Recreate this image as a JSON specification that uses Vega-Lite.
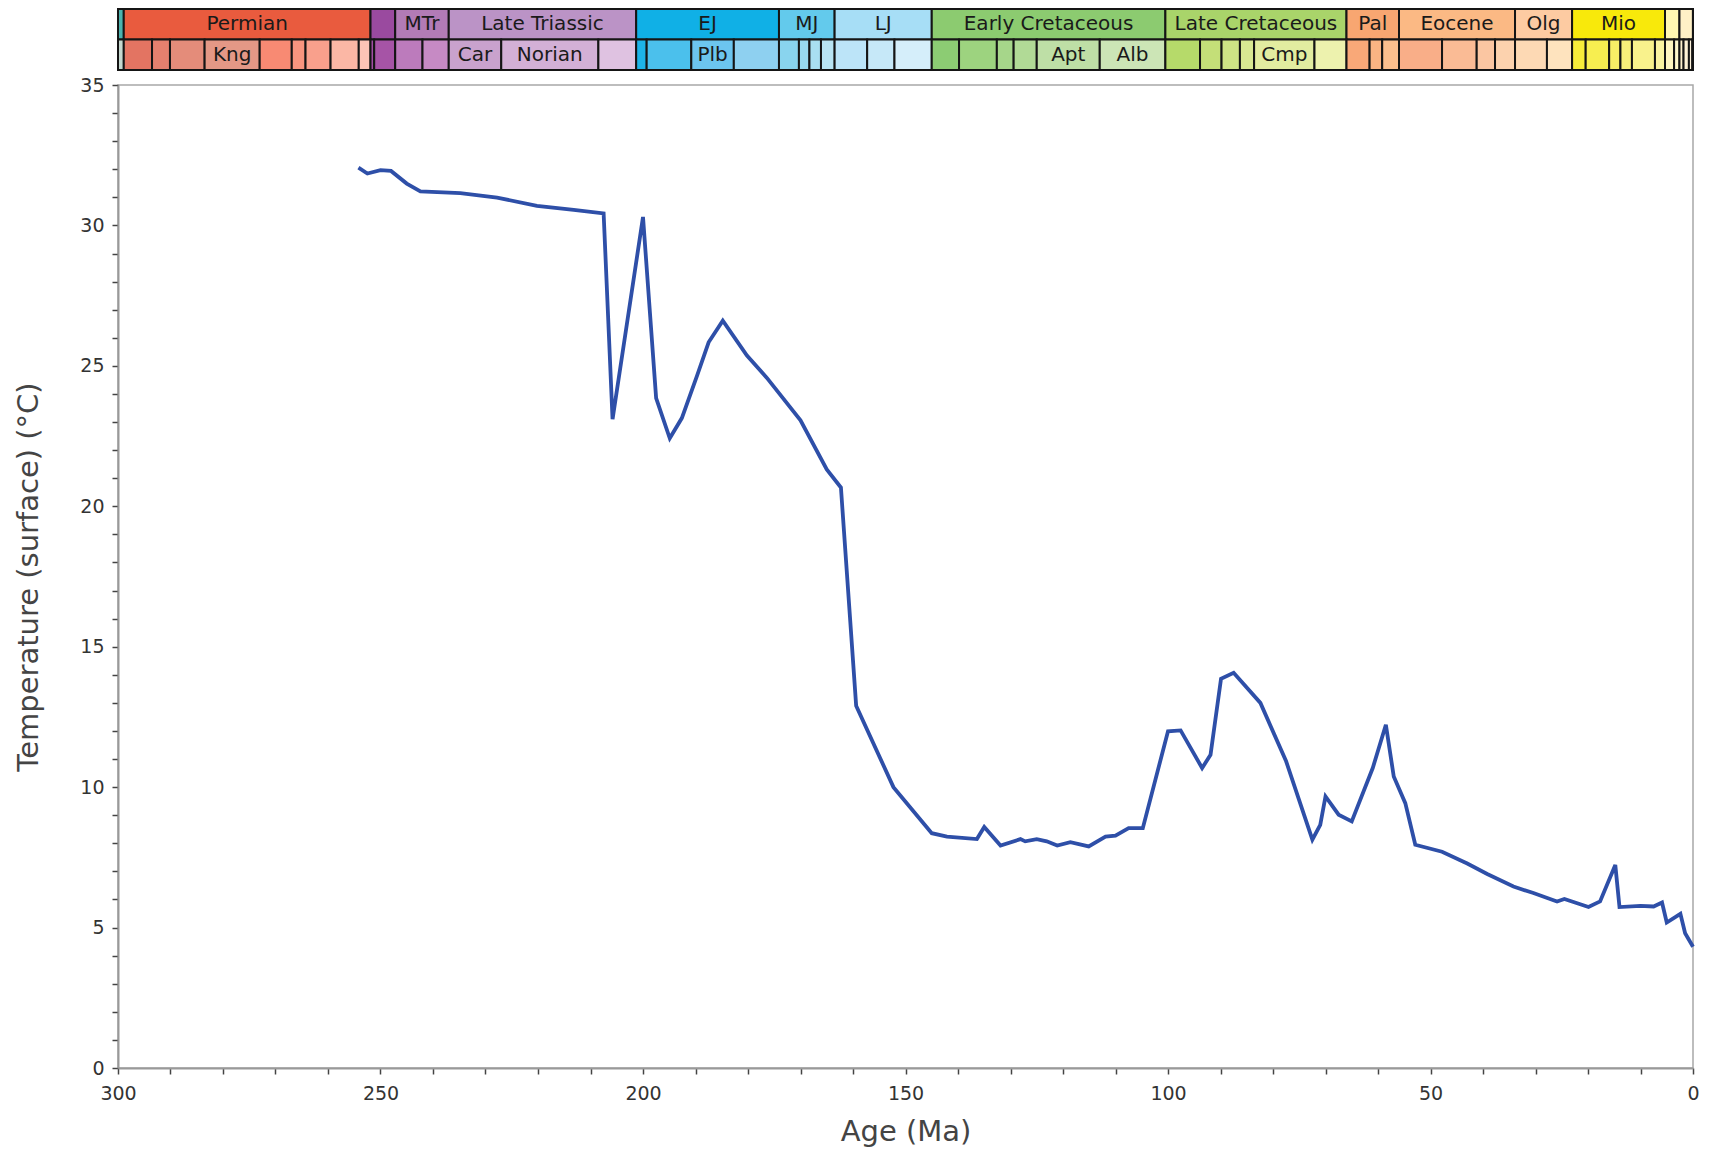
{
  "$schema": "https://vega.github.io/schema/vega-lite/v6.json",
  "background": "white",
  "padding": {"top": 8, "left": 14, "right": 10, "bottom": 4},
  "bounds": "flush",
  "spacing": 15,
  "config": {
    "font": "DejaVu Sans",
    "view": {"stroke": null},
    "axis": {
      "domainColor": "#999999", "domainWidth": 2,
      "tickColor": "#444444", "tickWidth": 1.5, "tickSize": 6,
      "labelFont": "DejaVu Sans", "labelFontSize": 19, "labelColor": "#333333",
      "titleFont": "DejaVu Sans", "titleFontSize": 29, "titleFontWeight": "normal", "titleColor": "#444444",
      "grid": false, "labelOverlap": false, "labelFlush": false
    }
  },
  "datasets": {
    "cells": [
      {"name": "Carboniferous", "level": "upper", "start": 298.9, "end": 300},
      {"name": "Permian", "level": "upper", "start": 251.902, "end": 298.9},
      {"name": "Early Triassic", "level": "upper", "start": 247.2, "end": 251.902},
      {"name": "Middle Triassic", "level": "upper", "start": 237, "end": 247.2},
      {"name": "Late Triassic", "level": "upper", "start": 201.3, "end": 237},
      {"name": "Early Jurassic", "level": "upper", "start": 174.1, "end": 201.3},
      {"name": "Middle Jurassic", "level": "upper", "start": 163.5, "end": 174.1},
      {"name": "Late Jurassic", "level": "upper", "start": 145, "end": 163.5},
      {"name": "Early Cretaceous", "level": "upper", "start": 100.5, "end": 145},
      {"name": "Late Cretaceous", "level": "upper", "start": 66, "end": 100.5},
      {"name": "Paleocene", "level": "upper", "start": 56, "end": 66},
      {"name": "Eocene", "level": "upper", "start": 33.9, "end": 56},
      {"name": "Oligocene", "level": "upper", "start": 23.03, "end": 33.9},
      {"name": "Miocene", "level": "upper", "start": 5.333, "end": 23.03},
      {"name": "Pliocene", "level": "upper", "start": 2.58, "end": 5.333},
      {"name": "Pleistocene", "level": "upper", "start": 0.0117, "end": 2.58},
      {"name": "Holocene", "level": "upper", "start": 0, "end": 0.0117},
      {"name": "Gzhelian", "level": "lower", "start": 298.9, "end": 300},
      {"name": "Asselian", "level": "lower", "start": 293.52, "end": 298.9},
      {"name": "Sakmarian", "level": "lower", "start": 290.1, "end": 293.52},
      {"name": "Artinskian", "level": "lower", "start": 283.5, "end": 290.1},
      {"name": "Kungurian", "level": "lower", "start": 273.01, "end": 283.5},
      {"name": "Roadian", "level": "lower", "start": 266.9, "end": 273.01},
      {"name": "Wordian", "level": "lower", "start": 264.28, "end": 266.9},
      {"name": "Capitanian", "level": "lower", "start": 259.51, "end": 264.28},
      {"name": "Wuchiapingian", "level": "lower", "start": 254.14, "end": 259.51},
      {"name": "Changhsingian", "level": "lower", "start": 251.902, "end": 254.14},
      {"name": "Induan", "level": "lower", "start": 251.2, "end": 251.902},
      {"name": "Olenekian", "level": "lower", "start": 247.2, "end": 251.2},
      {"name": "Anisian", "level": "lower", "start": 242, "end": 247.2},
      {"name": "Ladinian", "level": "lower", "start": 237, "end": 242},
      {"name": "Carnian", "level": "lower", "start": 227, "end": 237},
      {"name": "Norian", "level": "lower", "start": 208.5, "end": 227},
      {"name": "Rhaetian", "level": "lower", "start": 201.3, "end": 208.5},
      {"name": "Hettangian", "level": "lower", "start": 199.3, "end": 201.3},
      {"name": "Sinemurian", "level": "lower", "start": 190.8, "end": 199.3},
      {"name": "Pliensbachian", "level": "lower", "start": 182.7, "end": 190.8},
      {"name": "Toarcian", "level": "lower", "start": 174.1, "end": 182.7},
      {"name": "Aalenian", "level": "lower", "start": 170.3, "end": 174.1},
      {"name": "Bajocian", "level": "lower", "start": 168.3, "end": 170.3},
      {"name": "Bathonian", "level": "lower", "start": 166.1, "end": 168.3},
      {"name": "Callovian", "level": "lower", "start": 163.5, "end": 166.1},
      {"name": "Oxfordian", "level": "lower", "start": 157.3, "end": 163.5},
      {"name": "Kimmeridgian", "level": "lower", "start": 152.1, "end": 157.3},
      {"name": "Tithonian", "level": "lower", "start": 145, "end": 152.1},
      {"name": "Berriasian", "level": "lower", "start": 139.8, "end": 145},
      {"name": "Valanginian", "level": "lower", "start": 132.6, "end": 139.8},
      {"name": "Hauterivian", "level": "lower", "start": 129.4, "end": 132.6},
      {"name": "Barremian", "level": "lower", "start": 125, "end": 129.4},
      {"name": "Aptian", "level": "lower", "start": 113, "end": 125},
      {"name": "Albian", "level": "lower", "start": 100.5, "end": 113},
      {"name": "Cenomanian", "level": "lower", "start": 93.9, "end": 100.5},
      {"name": "Turonian", "level": "lower", "start": 89.8, "end": 93.9},
      {"name": "Coniacian", "level": "lower", "start": 86.3, "end": 89.8},
      {"name": "Santonian", "level": "lower", "start": 83.6, "end": 86.3},
      {"name": "Campanian", "level": "lower", "start": 72.1, "end": 83.6},
      {"name": "Maastrichtian", "level": "lower", "start": 66, "end": 72.1},
      {"name": "Danian", "level": "lower", "start": 61.6, "end": 66},
      {"name": "Selandian", "level": "lower", "start": 59.2, "end": 61.6},
      {"name": "Thanetian", "level": "lower", "start": 56, "end": 59.2},
      {"name": "Ypresian", "level": "lower", "start": 47.8, "end": 56},
      {"name": "Lutetian", "level": "lower", "start": 41.2, "end": 47.8},
      {"name": "Bartonian", "level": "lower", "start": 37.71, "end": 41.2},
      {"name": "Priabonian", "level": "lower", "start": 33.9, "end": 37.71},
      {"name": "Rupelian", "level": "lower", "start": 27.82, "end": 33.9},
      {"name": "Chattian", "level": "lower", "start": 23.03, "end": 27.82},
      {"name": "Aquitanian", "level": "lower", "start": 20.44, "end": 23.03},
      {"name": "Burdigalian", "level": "lower", "start": 15.97, "end": 20.44},
      {"name": "Langhian", "level": "lower", "start": 13.82, "end": 15.97},
      {"name": "Serravallian", "level": "lower", "start": 11.63, "end": 13.82},
      {"name": "Tortonian", "level": "lower", "start": 7.246, "end": 11.63},
      {"name": "Messinian", "level": "lower", "start": 5.333, "end": 7.246},
      {"name": "Zanclean", "level": "lower", "start": 3.6, "end": 5.333},
      {"name": "Piacenzian", "level": "lower", "start": 2.58, "end": 3.6},
      {"name": "Gelasian", "level": "lower", "start": 1.8, "end": 2.58},
      {"name": "Calabrian", "level": "lower", "start": 0.781, "end": 1.8},
      {"name": "Chibanian", "level": "lower", "start": 0.126, "end": 0.781},
      {"name": "Upper Pleistocene", "level": "lower", "start": 0.0117, "end": 0.126},
      {"name": "Holocene stage", "level": "lower", "start": 0, "end": 0.0117}
    ],
    "labels": [
      {"text": "Permian", "level": "upper", "mid": 275.4},
      {"text": "MTr", "level": "upper", "mid": 242.1},
      {"text": "Late Triassic", "level": "upper", "mid": 219.15},
      {"text": "EJ", "level": "upper", "mid": 187.7},
      {"text": "MJ", "level": "upper", "mid": 168.8},
      {"text": "LJ", "level": "upper", "mid": 154.25},
      {"text": "Early Cretaceous", "level": "upper", "mid": 122.75},
      {"text": "Late Cretaceous", "level": "upper", "mid": 83.25},
      {"text": "Pal", "level": "upper", "mid": 61},
      {"text": "Eocene", "level": "upper", "mid": 44.95},
      {"text": "Olg", "level": "upper", "mid": 28.47},
      {"text": "Mio", "level": "upper", "mid": 14.18},
      {"text": "Kng", "level": "lower", "mid": 278.25},
      {"text": "Car", "level": "lower", "mid": 232},
      {"text": "Norian", "level": "lower", "mid": 217.75},
      {"text": "Plb", "level": "lower", "mid": 186.75},
      {"text": "Apt", "level": "lower", "mid": 119},
      {"text": "Alb", "level": "lower", "mid": 106.75},
      {"text": "Cmp", "level": "lower", "mid": 77.85}
    ],
    "temp": [
      {"age": 254.2, "temp": 32.06},
      {"age": 252.5, "temp": 31.85},
      {"age": 250.0, "temp": 31.97},
      {"age": 248.0, "temp": 31.94},
      {"age": 245.0, "temp": 31.49},
      {"age": 242.4, "temp": 31.21},
      {"age": 234.8, "temp": 31.15},
      {"age": 227.8, "temp": 30.99},
      {"age": 220.2, "temp": 30.70},
      {"age": 213.2, "temp": 30.55},
      {"age": 207.5, "temp": 30.43},
      {"age": 205.8, "temp": 23.1},
      {"age": 200.0, "temp": 30.3},
      {"age": 197.5, "temp": 23.85},
      {"age": 194.9, "temp": 22.42},
      {"age": 192.6, "temp": 23.14},
      {"age": 189.7, "temp": 24.65},
      {"age": 187.5, "temp": 25.84},
      {"age": 184.8, "temp": 26.61},
      {"age": 180.2, "temp": 25.37},
      {"age": 176.4, "temp": 24.57},
      {"age": 170.0, "temp": 23.06},
      {"age": 165.0, "temp": 21.31},
      {"age": 162.3, "temp": 20.67},
      {"age": 159.4, "temp": 12.9},
      {"age": 152.3, "temp": 10.0},
      {"age": 145.0, "temp": 8.36},
      {"age": 142.1, "temp": 8.24},
      {"age": 136.4, "temp": 8.15},
      {"age": 135.0, "temp": 8.58},
      {"age": 131.9, "temp": 7.92},
      {"age": 128.1, "temp": 8.15},
      {"age": 127.2, "temp": 8.07},
      {"age": 125.0, "temp": 8.15},
      {"age": 123.1, "temp": 8.07},
      {"age": 121.1, "temp": 7.92},
      {"age": 118.6, "temp": 8.04},
      {"age": 115.1, "temp": 7.89},
      {"age": 111.9, "temp": 8.24},
      {"age": 110.0, "temp": 8.27},
      {"age": 107.5, "temp": 8.54},
      {"age": 104.8, "temp": 8.54},
      {"age": 100.0, "temp": 11.99},
      {"age": 97.6, "temp": 12.02},
      {"age": 93.5, "temp": 10.68},
      {"age": 91.9, "temp": 11.15},
      {"age": 89.9, "temp": 13.86},
      {"age": 87.5, "temp": 14.07},
      {"age": 82.4, "temp": 13.0},
      {"age": 77.5, "temp": 10.92},
      {"age": 72.5, "temp": 8.13},
      {"age": 71.0, "temp": 8.66},
      {"age": 70.0, "temp": 9.67},
      {"age": 67.5, "temp": 9.02},
      {"age": 65.0, "temp": 8.78},
      {"age": 61.0, "temp": 10.68},
      {"age": 58.5, "temp": 12.22},
      {"age": 57.0, "temp": 10.38},
      {"age": 54.8, "temp": 9.43},
      {"age": 52.9, "temp": 7.95},
      {"age": 47.8, "temp": 7.7},
      {"age": 43.0, "temp": 7.28},
      {"age": 39.2, "temp": 6.91},
      {"age": 34.2, "temp": 6.46},
      {"age": 30.4, "temp": 6.23},
      {"age": 25.9, "temp": 5.93},
      {"age": 24.5, "temp": 6.02},
      {"age": 19.9, "temp": 5.73},
      {"age": 17.7, "temp": 5.93},
      {"age": 14.8, "temp": 7.23},
      {"age": 14.0, "temp": 5.73},
      {"age": 10.0, "temp": 5.77},
      {"age": 7.5, "temp": 5.75},
      {"age": 5.9, "temp": 5.89},
      {"age": 5.0, "temp": 5.18},
      {"age": 2.4, "temp": 5.49},
      {"age": 1.5, "temp": 4.8},
      {"age": 0.0, "temp": 4.32}
    ]
  },
  "resolve": {"scale": {"x": "independent", "y": "independent", "color": "independent"}},
  "vconcat": [
    {
      "width": 1575,
      "height": 61,
      "view": {"stroke": null},
      "layer": [
        {
          "data": {"name": "cells"},
          "mark": {"type": "rect", "stroke": "#151515", "strokeWidth": 2},
          "encoding": {
            "x": {"field": "start", "type": "quantitative", "scale": {"domain": [0, 300], "reverse": true, "nice": false, "zero": false}, "axis": null},
            "x2": {"field": "end"},
            "y": {"field": "level", "type": "nominal", "scale": {"domain": ["upper", "lower"], "paddingInner": 0, "paddingOuter": 0}, "axis": null},
            "color": {
              "field": "name", "type": "nominal", "legend": null,
              "scale": {
                "domain": ["Carboniferous","Permian","Early Triassic","Middle Triassic","Late Triassic","Early Jurassic","Middle Jurassic","Late Jurassic","Early Cretaceous","Late Cretaceous","Paleocene","Eocene","Oligocene","Miocene","Pliocene","Pleistocene","Holocene",
                  "Gzhelian","Asselian","Sakmarian","Artinskian","Kungurian","Roadian","Wordian","Capitanian","Wuchiapingian","Changhsingian",
                  "Induan","Olenekian","Anisian","Ladinian","Carnian","Norian","Rhaetian",
                  "Hettangian","Sinemurian","Pliensbachian","Toarcian","Aalenian","Bajocian","Bathonian","Callovian","Oxfordian","Kimmeridgian","Tithonian",
                  "Berriasian","Valanginian","Hauterivian","Barremian","Aptian","Albian","Cenomanian","Turonian","Coniacian","Santonian","Campanian","Maastrichtian",
                  "Danian","Selandian","Thanetian","Ypresian","Lutetian","Bartonian","Priabonian","Rupelian","Chattian",
                  "Aquitanian","Burdigalian","Langhian","Serravallian","Tortonian","Messinian","Zanclean","Piacenzian","Gelasian","Calabrian","Chibanian","Upper Pleistocene","Holocene stage"],
                "range": ["#4DB3AE","#E95B3E","#9A4A9F","#B27BB6","#BB93C6","#10B0E6","#63CAEC","#A7DEF6","#8CCB70","#A9D46A","#F8A671","#FBB984","#FDCBA2","#F8E90B","#FFF7B2","#FFF1C6","#FEF2E6",
                  "#C5D8CF","#E37462","#E5806E","#E48C7A","#E49886","#F88A73","#F8957F","#F9A08C","#FBB7A5","#FCC4B6",
                  "#A04DA3","#A654A6","#BC7BBC","#C68AC4","#C9A2CD","#D3B0D6","#DFC2E1",
                  "#1DB4E8","#4BC0EC","#6CC5EF","#8ED0F0","#89D4EE","#99DAF0","#A9DFF1","#B9E4F3","#BCE4F8","#C6E8F8","#D5EEFA",
                  "#8CCC73","#9DD37F","#A6D68A","#B1DA96","#BEDFA6","#CCE5B6","#B6DA6A","#C4DF78","#CEE385","#D8E892","#E2ECA0","#EDF2AE",
                  "#F9A878","#FAB483","#FBBF8E","#F9AE88","#FABB95","#FBC6A2","#FCD2AE","#FDD9B4","#FEE3BE",
                  "#F7EC3A","#F7EE50","#F8EF66","#F8F07A","#F9F28C","#FAF4A0","#FEF6C0","#FEF8CC","#FEF1CE","#FEF2D6","#FEF3DC","#FEF4E2","#FEF4EE"]
              }
            }
          }
        },
        {
          "data": {"name": "labels"},
          "mark": {"type": "text", "fontSize": 20, "color": "#1a1a1a", "font": "DejaVu Sans", "baseline": "middle", "align": "center"},
          "encoding": {
            "x": {"field": "mid", "type": "quantitative", "scale": {"domain": [0, 300], "reverse": true, "nice": false, "zero": false}, "axis": null},
            "y": {"field": "level", "type": "nominal", "scale": {"domain": ["upper", "lower"], "paddingInner": 0, "paddingOuter": 0}, "axis": null},
            "text": {"field": "text"}
          }
        }
      ]
    },
    {
      "width": 1575,
      "height": 983,
      "view": {"stroke": "#a8a8a8", "strokeWidth": 1.5},
      "data": {"name": "temp"},
      "mark": {"type": "line", "color": "#2E4FA8", "strokeWidth": 3.8},
      "encoding": {
        "x": {
          "field": "age", "type": "quantitative",
          "scale": {"domain": [0, 300], "reverse": true, "nice": false, "zero": false},
          "axis": {
            "title": "Age (Ma)",
            "values": [0,10,20,30,40,50,60,70,80,90,100,110,120,130,140,150,160,170,180,190,200,210,220,230,240,250,260,270,280,290,300],
            "labelExpr": "datum.value % 50 === 0 ? datum.label : ''",
            "labelPadding": 10, "titlePadding": 14
          }
        },
        "y": {
          "field": "temp", "type": "quantitative",
          "scale": {"domain": [0, 35], "nice": false, "zero": true},
          "axis": {
            "title": "Temperature (surface) (°C)",
            "values": [0,1,2,3,4,5,6,7,8,9,10,11,12,13,14,15,16,17,18,19,20,21,22,23,24,25,26,27,28,29,30,31,32,33,34,35],
            "labelExpr": "datum.value % 5 === 0 ? datum.label : ''",
            "labelPadding": 8, "titlePadding": 36
          }
        }
      }
    }
  ]
}
